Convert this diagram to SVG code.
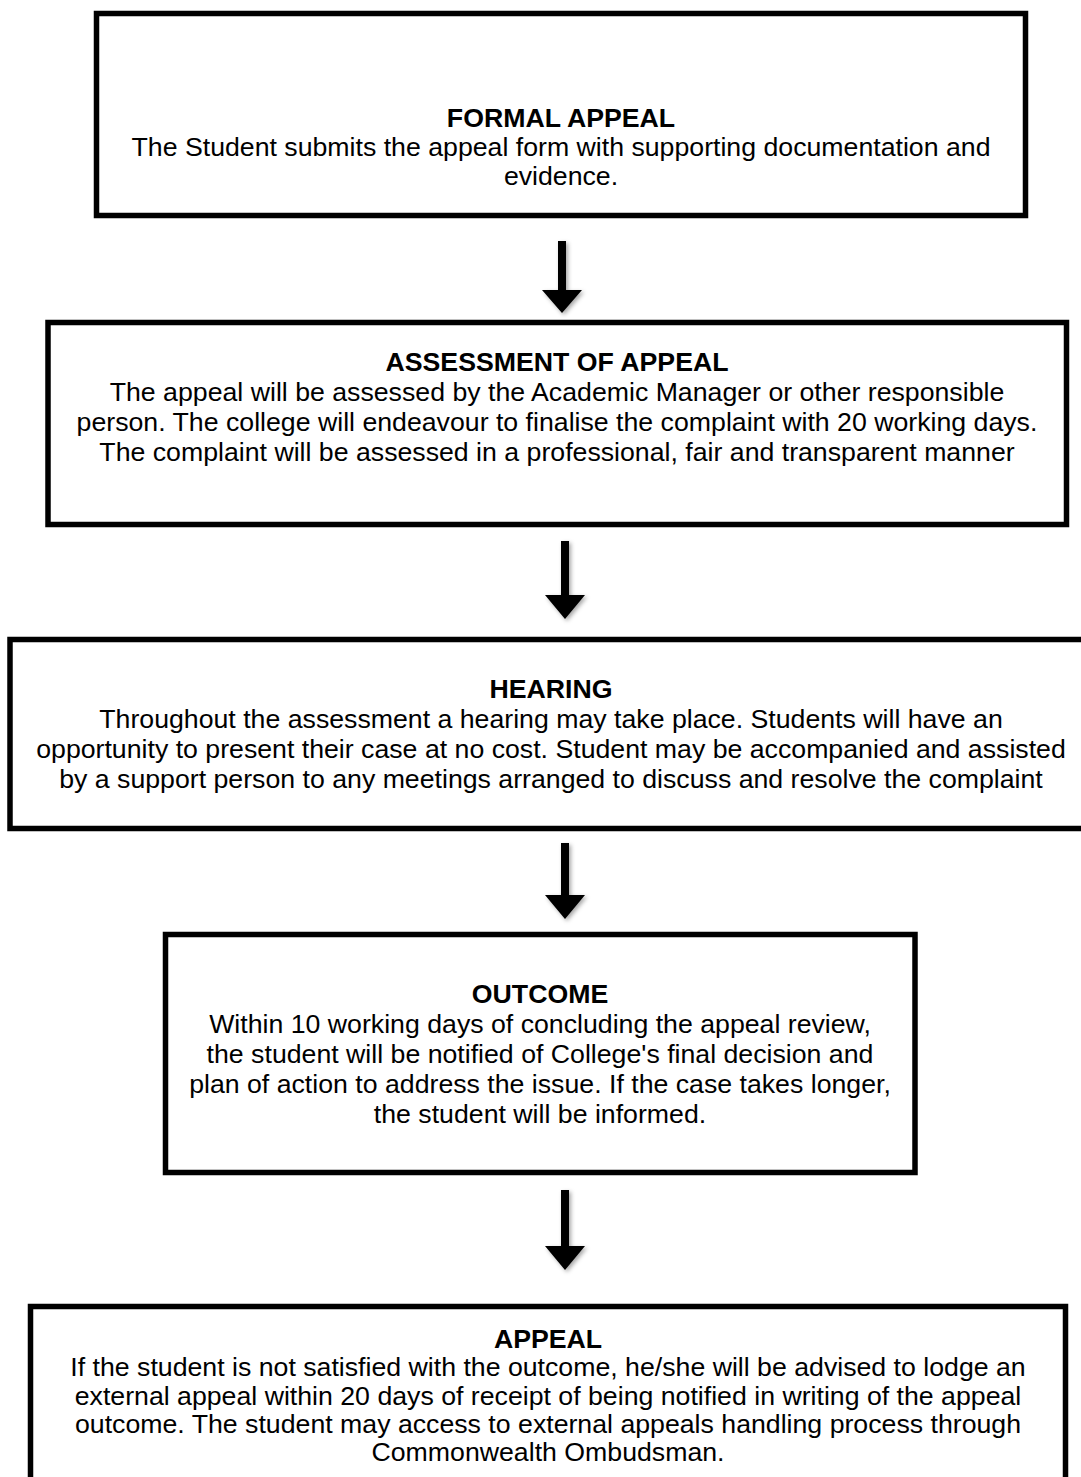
<svg xmlns="http://www.w3.org/2000/svg" width="1081" height="1477" viewBox="0 0 1081 1477">
<defs>
<style>
.box{fill:#fff;stroke:#000;stroke-width:5.5}
.t{font-family:"Liberation Sans",Arial,sans-serif;font-size:26.7px;fill:#000;text-anchor:middle}
.b{font-weight:bold}
.arr{fill:#000;filter:url(#sh)}
</style>
<filter id="sh" x="-50%" y="-20%" width="200%" height="150%">
<feDropShadow dx="2" dy="2" stdDeviation="2" flood-color="#000" flood-opacity="0.35"/>
</filter>
</defs>
<rect width="1081" height="1477" fill="#fff"/>
<g id="connectors">
<path class="arr" d="M558,241 H566 V290 H582 L562,313 L542,290 H558 Z"/>
<path class="arr" d="M561,541 H569 V595 H585 L565,619 L545,595 H561 Z"/>
<path class="arr" d="M561,843 H569 V895 H585 L565,919 L545,895 H561 Z"/>
<path class="arr" d="M561,1190 H569 V1246 H585 L565,1270 L545,1246 H561 Z"/>
</g>
<g id="formal-appeal">
<rect class="box" x="96.5" y="13.5" width="929" height="202"/>
<text class="t b" x="561" y="127">FORMAL APPEAL</text>
<text class="t" x="561" y="156">The Student submits the appeal form with supporting documentation and</text>
<text class="t" x="561" y="185">evidence.</text>
</g>
<g id="assessment">
<rect class="box" x="48" y="322.5" width="1018.5" height="202"/>
<text class="t b" x="557" y="371">ASSESSMENT OF APPEAL</text>
<text class="t" x="557" y="401">The appeal will be assessed by the Academic Manager or other responsible</text>
<text class="t" x="557" y="431">person. The college will endeavour to finalise the complaint with 20 working days.</text>
<text class="t" x="557" y="461">The complaint will be assessed in a professional, fair and transparent manner</text>
</g>
<g id="hearing">
<rect class="box" x="10" y="639.5" width="1082" height="189"/>
<text class="t b" x="551" y="698">HEARING</text>
<text class="t" x="551" y="728">Throughout the assessment a hearing may take place. Students will have an</text>
<text class="t" x="551" y="758">opportunity to present their case at no cost. Student may be accompanied and assisted</text>
<text class="t" x="551" y="788">by a support person to any meetings arranged to discuss and resolve the complaint</text>
</g>
<g id="outcome">
<rect class="box" x="165.5" y="934.5" width="749.5" height="238"/>
<text class="t b" x="540" y="1003">OUTCOME</text>
<text class="t" x="540" y="1033">Within 10 working days of concluding the appeal review,</text>
<text class="t" x="540" y="1063">the student will be notified of College's final decision and</text>
<text class="t" x="540" y="1093">plan of action to address the issue. If the case takes longer,</text>
<text class="t" x="540" y="1123">the student will be informed.</text>
</g>
<g id="appeal">
<rect class="box" x="30.5" y="1306.5" width="1035" height="200"/>
<text class="t b" x="548" y="1348">APPEAL</text>
<text class="t" x="548" y="1376">If the student is not satisfied with the outcome, he/she will be advised to lodge an</text>
<text class="t" x="548" y="1405">external appeal within 20 days of receipt of being notified in writing of the appeal</text>
<text class="t" x="548" y="1433">outcome. The student may access to external appeals handling process through</text>
<text class="t" x="548" y="1461">Commonwealth Ombudsman.</text>
</g>
</svg>
